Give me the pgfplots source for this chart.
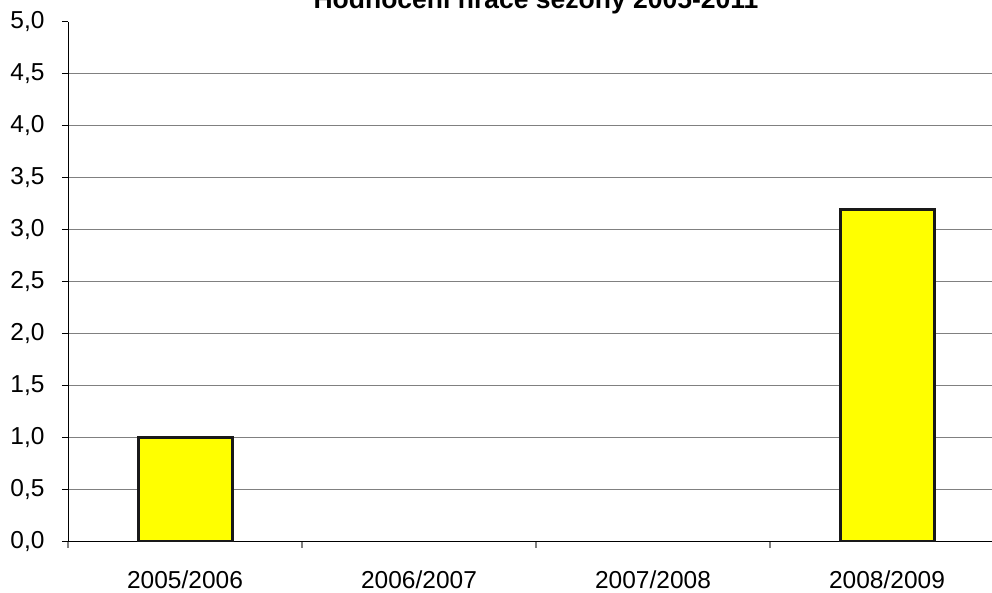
\documentclass[border=0pt]{standalone}
\usepackage{pgfplots}
\pgfplotsset{compat=1.18}
\usepackage{fontspec}
\setmainfont{Liberation Sans}
\definecolor{gridgray}{RGB}{128,128,128}
\definecolor{baryellow}{RGB}{255,255,0}
\begin{document}
\begin{tikzpicture}[x=1pt,y=1pt]
\path[use as bounding box, clip] (0,0) rectangle (992,593);
\begin{axis}[
  at={(68pt,51pt)}, anchor=south west,
  scale only axis, width=936pt, height=520pt,
  xmin=0, xmax=4, ymin=0, ymax=5,
  axis x line*=bottom, axis y line*=left,
  axis line style={black, line width=1pt},
  xtick={0,1,2,3,4},
  xticklabels={2005/2006,2006/2007,2007/2008,2008/2009},
  x tick label as interval,
  ytick={0,0.5,...,4.5},
  extra y ticks={5},
  extra y tick style={grid=none},
  ymajorgrids, grid style={gridgray, line width=1pt},
  tick align=outside, major tick length=6pt,
  tick style={black, line width=1pt},
  xtick style={gridgray, line width=1.5pt},
  font=\fontsize{24.5}{29}\selectfont,
  /pgf/number format/assume math mode=true,
  yticklabel style={xshift=-14pt, /pgf/number format/.cd, fixed, fixed zerofill, precision=1, use comma},
  extra y tick label={5,0},
  xticklabel style={yshift=-19pt},
  unbounded coords=discard,
  ybar, bar width=94pt,
]
\addplot[fill=baryellow, draw=black!90, line width=3pt,
  y filter/.expression={y==0 ? nan : y}] coordinates {(0.5,1.0) (1.5,0) (2.5,0) (3.5,3.2)};
\end{axis}
\node[anchor=base, font=\fontsize{26.5}{31}\selectfont\bfseries] at (536,584) {Hodnocení hráče sezóny 2005-2011};
\end{tikzpicture}
\end{document}
